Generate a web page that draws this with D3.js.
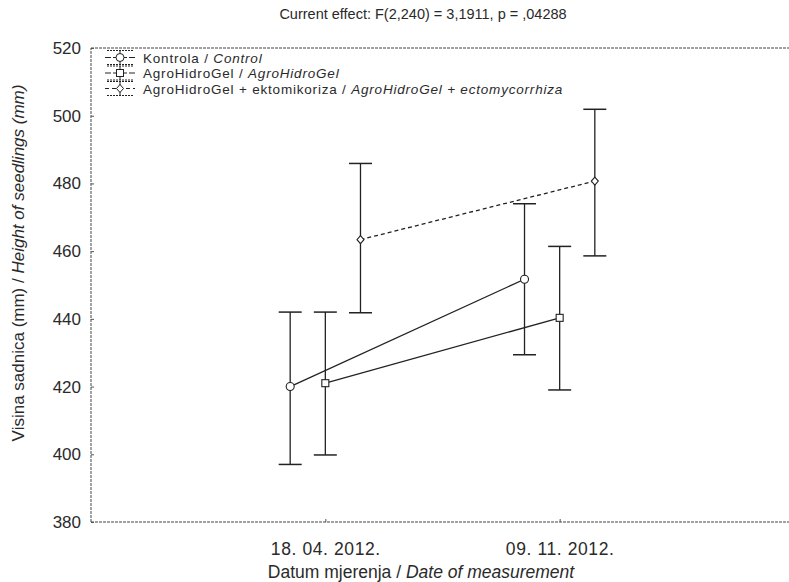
<!DOCTYPE html>
<html>
<head>
<meta charset="utf-8">
<script src="https://cdn.jsdelivr.net/npm/d3@7/dist/d3.min.js"></script>
<style>
  body { margin: 0; background: #fff; }
  text { fill: #2a2a2a; font-family: "Liberation Sans", Arial, sans-serif; }
</style>
</head>
<body>
<svg id="chart" width="789" height="582"></svg>
<script>
// --- data ---
const dates = ["18. 04. 2012.", "09. 11. 2012."];
const yTicks = [380, 400, 420, 440, 460, 480, 500, 520];
const seriesNames = [
  ["Kontrola / ", "Control"],
  ["AgroHidroGel / ", "AgroHidroGel"],
  ["AgroHidroGel + ektomikoriza / ", "AgroHidroGel + ectomycorrhiza"]
];
const kontrolaMean = [420, 451.7];
const kontrolaLow  = [397, 429.4];
const kontrolaHigh = [442, 474];
const gelMean = [421, 440.3];
const gelLow  = [399.8, 419];
const gelHigh = [442, 461.4];
const ektoMean = [463.4, 480.7];
const ektoLow  = [441.8, 458.6];
const ektoHigh = [485.9, 501.9];
const titleText = "Current effect: F(2,240) = 3,1911, p = ,04288";

// stil serija
const series = [
  { mean: kontrolaMean, low: kontrolaLow, high: kontrolaHigh, shape: "circle", dash: null, off: -0.15 },
  { mean: gelMean, low: gelLow, high: gelHigh, shape: "square", dash: null, off: 0 },
  { mean: ektoMean, low: ektoLow, high: ektoHigh, shape: "diamond", dash: "4,3", off: 0.15 }
];

const svg = d3.select("#chart");
const ink = "#222";

const x = d3.scaleLinear().domain([0, 3]).range([91, 794]);
const y = d3.scaleLinear().domain([380, 520]).range([522, 48]);

// okvir
const frame = svg.append("g");
frame.append("line").attr("x1", x(0)).attr("x2", x(3)).attr("y1", y(380)).attr("y2", y(380));
frame.append("line").attr("x1", x(0)).attr("x2", x(3)).attr("y1", y(520)).attr("y2", y(520));
frame.append("line").attr("x1", x(0)).attr("x2", x(0)).attr("y1", y(380)).attr("y2", y(520));
frame.selectAll("line").attr("stroke", "#444").attr("stroke-width", 1).attr("stroke-dasharray", "3,1");

// y os
const yAxis = d3.axisLeft(y).tickValues(yTicks).tickSize(-3).tickPadding(10);
const gy = svg.append("g").attr("transform", `translate(${x(0)},0)`).call(yAxis);
gy.select(".domain").remove();
gy.selectAll(".tick line").attr("stroke", "#555");
gy.selectAll(".tick text").style("font-size", "17px").attr("fill", "#2a2a2a");

// x os
const xAxis = d3.axisBottom(x).tickValues([1, 2]).tickFormat((d, i) => dates[i]).tickSize(-3).tickPadding(21);
const gx = svg.append("g").attr("transform", `translate(0,${y(380)})`).call(xAxis);
gx.select(".domain").remove();
gx.selectAll(".tick line").attr("stroke", "#555");
gx.selectAll(".tick text").style("font-size", "17.5px").style("letter-spacing", "0.6px").attr("fill", "#2a2a2a");

// naslov
svg.append("text").attr("x", 423).attr("y", 19).attr("text-anchor", "middle")
  .style("font-size", "14.5px").text(titleText);

// oznake osi
const xl = svg.append("text").attr("x", 421).attr("y", 578).attr("text-anchor", "middle")
  .style("font-size", "17.5px");
xl.append("tspan").text("Datum mjerenja / ");
xl.append("tspan").style("font-style", "italic").text("Date of measurement");

const yl = svg.append("text").attr("transform", "translate(24,263) rotate(-90)")
  .attr("text-anchor", "middle").style("font-size", "17px");
yl.append("tspan").text("Visina sadnica (mm) / ");
yl.append("tspan").style("font-style", "italic").text("Height of seedlings (mm)");

// oznaka tocke
function marker(g, shape, cx, cy) {
  if (shape === "circle") {
    g.append("circle").attr("cx", cx).attr("cy", cy).attr("r", 4);
  } else if (shape === "square") {
    g.append("rect").attr("x", cx - 3.5).attr("y", cy - 3.5).attr("width", 7).attr("height", 7);
  } else {
    g.append("path").attr("d", `M${cx},${cy - 4}L${cx + 3.5},${cy}L${cx},${cy + 4}L${cx - 3.5},${cy}Z`);
  }
}

const cap = 11.5;
series.forEach(s => {
  const g = svg.append("g").attr("stroke", ink).attr("stroke-width", 1.3).attr("fill", "none");
  const pts = s.mean.map((m, i) => [x(i + 1 + s.off), y(m)]);
  // greske
  s.mean.forEach((m, i) => {
    const cx = x(i + 1 + s.off);
    g.append("line").attr("x1", cx).attr("x2", cx).attr("y1", y(s.low[i])).attr("y2", y(s.high[i]));
    [s.low[i], s.high[i]].forEach(v => {
      g.append("line").attr("x1", cx - cap).attr("x2", cx + cap).attr("y1", y(v)).attr("y2", y(v))
        .attr("stroke-width", 1.5);
    });
  });
  g.append("path").attr("d", d3.line()(pts)).attr("stroke-dasharray", s.dash);
  const mg = g.append("g").attr("fill", "#fff").attr("stroke-width", 1.1);
  pts.forEach(p => marker(mg, s.shape, p[0], p[1]));
});

// legenda
const lg = svg.append("g");
seriesNames.forEach((nm, i) => {
  const cy = 57.5 + i * 15.5;
  const s = series[i];
  const g = lg.append("g").attr("stroke", ink).attr("stroke-width", 1).attr("fill", "none");
  g.append("line").attr("x1", 105).attr("x2", 135).attr("y1", cy).attr("y2", cy).attr("stroke-dasharray", s.dash || "6,2");
  g.append("line").attr("x1", 120).attr("x2", 120).attr("y1", cy - 7).attr("y2", cy + 7);
  [cy - 7, cy + 7].forEach(v => g.append("line").attr("x1", 107).attr("x2", 133).attr("y1", v).attr("y2", v).attr("stroke-dasharray", "2,1"));
  const mg = g.append("g").attr("fill", "#fff");
  marker(mg, s.shape, 120, cy);
  const t = lg.append("text").attr("x", 143).attr("y", cy + 5).style("font-size", "13.5px").style("letter-spacing", "0.8px");
  t.append("tspan").text(nm[0]);
  t.append("tspan").style("font-style", "italic").text(nm[1]);
});
</script>
</body>
</html>
